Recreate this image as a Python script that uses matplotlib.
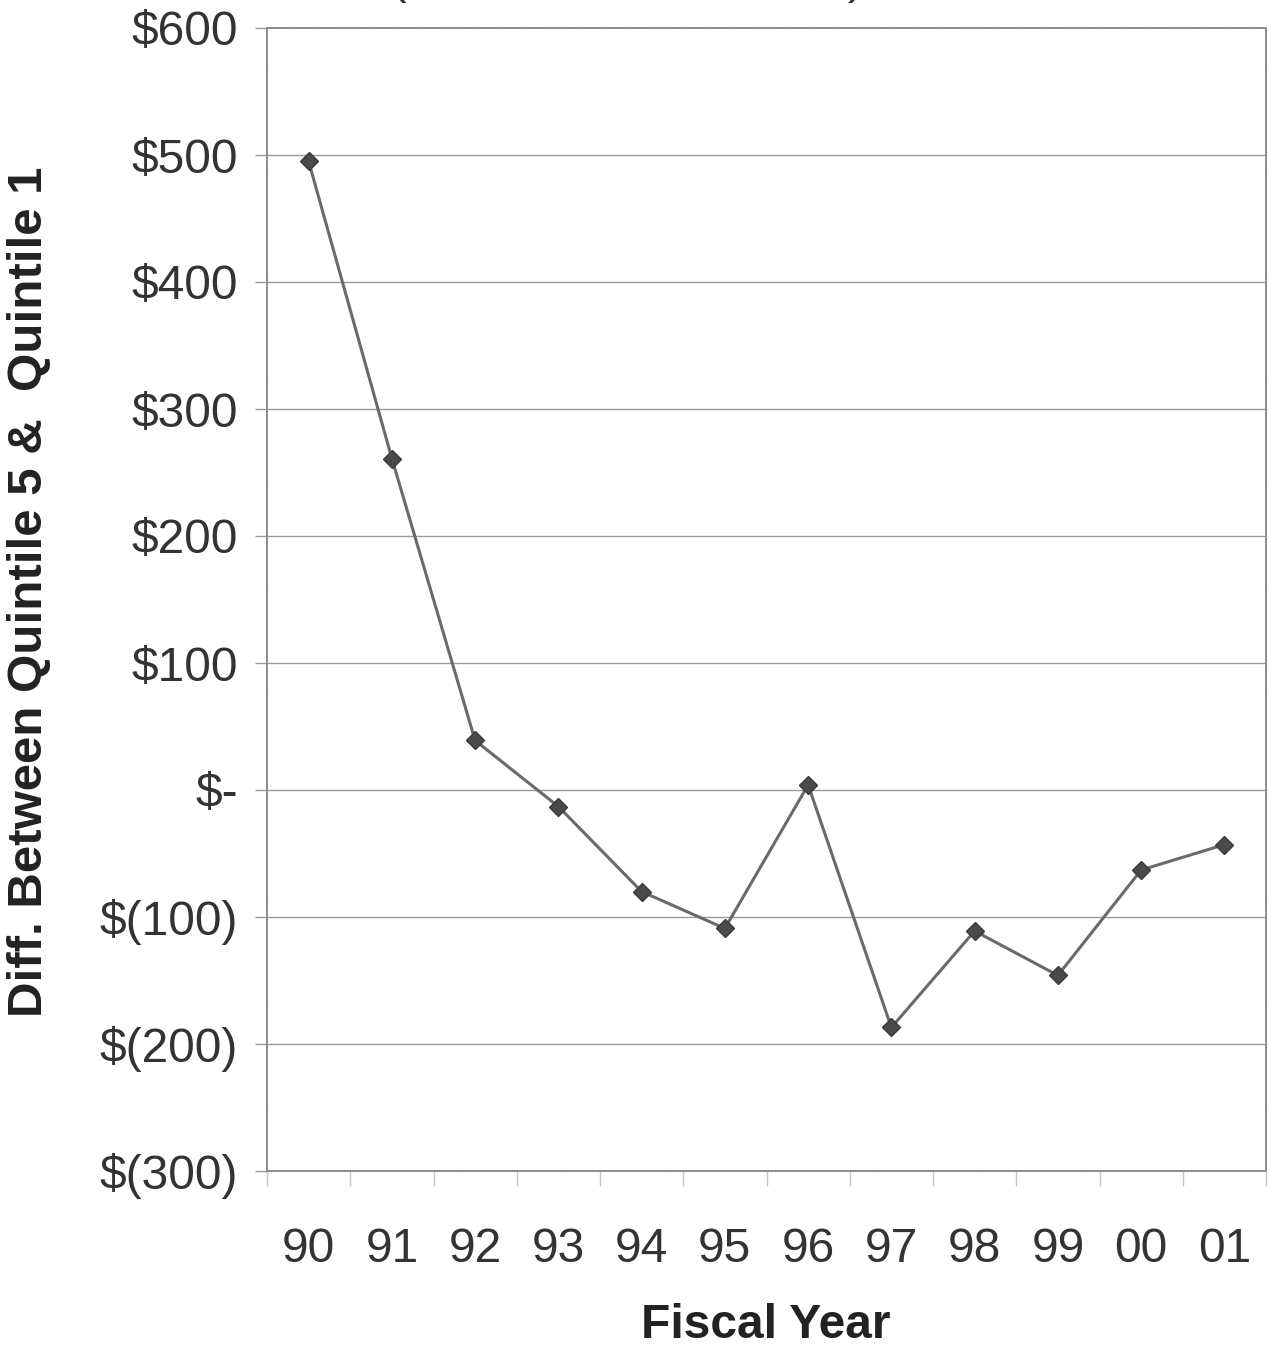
import matplotlib
matplotlib.use("Agg")
import matplotlib.pyplot as plt
from matplotlib.ticker import FixedLocator, FuncFormatter

plt.rcParams['font.family'] = ['Liberation Sans', 'DejaVu Sans']

# Difference between quintile 5 and quintile 1, by fiscal year
years = ["90", "91", "92", "93", "94", "95", "96", "97", "98", "99", "00", "01"]
diff = [495, 261, 39, -13, -80, -109, 4, -187, -111, -146, -63, -43]

y_ticks = [-300, -200, -100, 0, 100, 200, 300, 400, 500, 600]


def money(v, _pos=None):
    v = int(round(v))
    if v == 0:
        return "$-"
    if v < 0:
        return f"$({-v})"
    return f"${v}"


fig = plt.figure(figsize=(12.70, 13.47), dpi=100)
ax = fig.add_axes([267 / 1270, 176 / 1347, 999 / 1270, 1143 / 1347])

x = list(range(len(years)))
ax.plot(x, diff, color="#6a6a6a", lw=2.2, marker="D", ms=9.5,
        markerfacecolor="#4a4a4a", markeredgecolor="#3a3a3a", zorder=3)

ax.set_xlim(-0.5, len(years) - 0.5)
ax.set_ylim(-300, 600)

# horizontal gridlines
for t in y_ticks[1:-1]:
    ax.axhline(t, color="#9a9a9a", lw=1.0, zorder=1)

ax.yaxis.set_major_locator(FixedLocator(y_ticks))
ax.yaxis.set_major_formatter(FuncFormatter(money))
ax.tick_params(axis="y", which="major", length=9, width=1, color="#999999",
               labelsize=34.5, labelcolor="#333333", pad=12)

# year labels centered on categories, tick marks on category boundaries
ax.set_xticks(x)
ax.set_xticklabels(years)
ax.tick_params(axis="x", which="major", length=0, labelsize=34.5,
               labelcolor="#333333", pad=40)
ax.set_xticks([i - 0.5 for i in range(len(years) + 1)], minor=True)
ax.tick_params(axis="x", which="minor", length=11, width=1, color="#c4c4c4")

for s in ax.spines.values():
    s.set_color("#8a8a8a")
    s.set_linewidth(1.3)
    s.set_linestyle((0, (1, 0.6)))

fig.text(766 / 1270, 1 - 1326 / 1347, "Fiscal Year", ha="center", va="center",
         fontsize=34.5, fontweight="bold", color="#222222")
fig.text(30 / 1270, 1 - 592 / 1347, "Diff. Between Quintile 5 &  Quintile 1",
         rotation=90, ha="center", va="center", fontsize=35.5,
         fontweight="bold", color="#222222")

# bottoms of the parentheses around the clipped heading
fig.text(398 / 1270, 1.0 + 0.014, "(", ha="center", va="center",
         fontsize=34, color="#333333")
fig.text(856 / 1270, 1.0 + 0.014, ")", ha="center", va="center",
         fontsize=34, color="#333333")

fig.savefig("out.png", dpi=100, facecolor="white")
